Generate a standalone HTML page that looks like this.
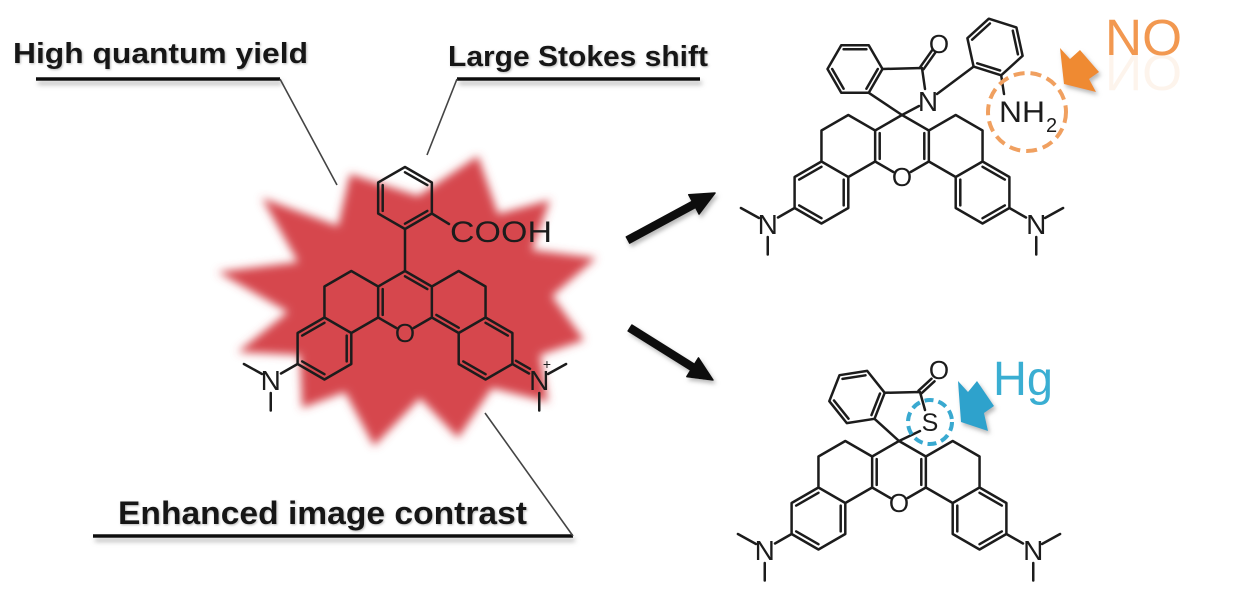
<!DOCTYPE html>
<html><head><meta charset="utf-8"><style>
html,body{margin:0;padding:0;background:#fff;}
svg{display:block;}
</style></head><body>
<svg width="1258" height="613" viewBox="0 0 1258 613" xmlns="http://www.w3.org/2000/svg">
<defs>
<filter id="blur" x="-20%" y="-20%" width="140%" height="140%"><feGaussianBlur stdDeviation="4.5"/></filter>
<filter id="sh" x="-10%" y="-50%" width="120%" height="300%"><feDropShadow dx="2" dy="4" stdDeviation="2.5" flood-color="#888" flood-opacity="0.6"/></filter>
<filter id="tsh" x="-5%" y="-20%" width="110%" height="140%"><feDropShadow dx="1" dy="1" stdDeviation="1" flood-color="#777" flood-opacity="0.5"/></filter>
<filter id="ash" x="-30%" y="-30%" width="160%" height="160%"><feDropShadow dx="2" dy="3" stdDeviation="2" flood-color="#888" flood-opacity="0.6"/></filter>
<linearGradient id="refl" x1="0" y1="0" x2="0" y2="1">
<stop offset="0" stop-color="#f29850" stop-opacity="0.25"/>
<stop offset="0.35" stop-color="#f29850" stop-opacity="0"/>
</linearGradient>
</defs>
<rect width="1258" height="613" fill="#fff"/>

<!-- starburst -->
<polygon filter="url(#blur)" fill="#d6474d" points="218,272 298,262 262,198 338,226 350,174 418,196 478,156 498,214 550,200 532,250 596,258 552,296 584,340 540,355 548,402 492,388 458,438 420,398 374,446 345,392 302,408 300,355 238,352 288,312"/>

<!-- labels -->
<g font-family="Liberation Sans, sans-serif" font-weight="bold" fill="#151515" filter="url(#tsh)">
<text x="13" y="63" font-size="29" textLength="295" lengthAdjust="spacingAndGlyphs">High quantum yield</text>
<text x="448" y="66" font-size="29" textLength="260" lengthAdjust="spacingAndGlyphs">Large Stokes shift</text>
<text x="118" y="524" font-size="32" textLength="409" lengthAdjust="spacingAndGlyphs">Enhanced image contrast</text>
</g>
<g stroke="#111" stroke-width="3.5" filter="url(#sh)">
<line x1="36" y1="79" x2="280" y2="79"/>
<line x1="457" y1="79" x2="700" y2="79"/>
<line x1="93" y1="536" x2="573" y2="536"/>
</g>
<g stroke="#444" stroke-width="1.6">
<line x1="280" y1="79" x2="337" y2="185"/>
<line x1="457" y1="79" x2="427" y2="155"/>
<line x1="573" y1="536" x2="485" y2="413"/>
</g>

<!-- black arrows -->
<g fill="#111" stroke="#111" stroke-width="1.5" stroke-linejoin="round" filter="url(#ash)">
<polygon points="629.7,243.1 695.6,207.5 699.1,214.1 715,193 688.7,194.7 692.2,201.3 626.3,236.9"/>
<polygon points="628.1,331 690.8,370.2 686.8,376.6 713,380 698.5,357.9 694.5,364.3 631.9,325"/>
</g>

<!-- MAIN MOLECULE -->
<g transform="translate(405,302)" stroke="#1c1c1c" stroke-width="2.5" fill="none" stroke-linecap="round" stroke-linejoin="round">
<path d="M-26.85,15.5 L-26.85,-15.5 L0,-31 L26.85,-15.5 L26.85,15.5 L8.7,26 M-26.85,15.5 L-8.7,26
M26.85,-15.5 L53.7,-31 L80.55,-15.5 L80.55,15.5 L53.7,31 L26.85,15.5
M80.55,15.5 L107.4,31 L107.4,62 L80.55,77.5 L53.7,62 L53.7,31
M107.4,62 L124,71.5 M143,72 L161.1,62 M134.25,91 L134.25,108.5
M-26.85,-15.5 L-53.7,-31 L-80.55,-15.5 L-80.55,15.5 L-53.7,31 L-26.85,15.5
M-80.55,15.5 L-107.4,31 L-107.4,62 L-80.55,77.5 L-53.7,62 L-53.7,31
M-107.4,62 L-124,71.5 M-143,72 L-161.1,62 M-134.25,91 L-134.25,108.5
M0,-31 L0,-73"/>
<path d="M0,-25.7 L22.3,-12.9 M-22.3,-12.9 L-22.3,12.9 M31.4,12.9 L53.7,25.7 M80.55,20.8 L102.8,33.6 M80.55,72.2 L58.3,59.4 M111,58.8 L125,66.8
M-80.55,20.8 L-102.8,33.6 M-58.3,33.6 L-58.3,59.4 M-102.8,59.4 L-80.55,72.2"/>
</g>
<!-- top benzene + COOH -->
<g stroke="#1c1c1c" stroke-width="2.5" fill="none" stroke-linecap="round" stroke-linejoin="round">
<path d="M405,167 L431.85,182.5 L431.85,213.5 L405,229 L378.15,213.5 L378.15,182.5 Z M431.85,213.5 L449,224"/>
<path d="M405,172.3 L427.3,185.1 M382.7,185.1 L382.7,210.9 M405,223.7 L427.3,210.9"/>
</g>
<g font-family="Liberation Sans, sans-serif" fill="#1c1c1c" text-anchor="middle">
<text x="405" y="342" font-size="26">O</text>
<text x="270.75" y="390" font-size="28">N</text>
<text x="539.25" y="390" font-size="28">N</text>
<text x="547" y="369" font-size="14">+</text>
<text x="450" y="242" font-size="30" text-anchor="start" textLength="102" lengthAdjust="spacingAndGlyphs">COOH</text>
</g>

<!-- UPPER RIGHT MOLECULE -->
<g transform="translate(902,146)" stroke="#1c1c1c" stroke-width="2.5" fill="none" stroke-linecap="round" stroke-linejoin="round">
<path d="M-26.85,15.5 L-26.85,-15.5 L0,-31 L26.85,-15.5 L26.85,15.5 L8.7,26 M-26.85,15.5 L-8.7,26
M26.85,-15.5 L53.7,-31 L80.55,-15.5 L80.55,15.5 L53.7,31 L26.85,15.5
M80.55,15.5 L107.4,31 L107.4,62 L80.55,77.5 L53.7,62 L53.7,31
M107.4,62 L124,71.5 M143,72 L161.1,62 M134.25,91 L134.25,108.5
M-26.85,-15.5 L-53.7,-31 L-80.55,-15.5 L-80.55,15.5 L-53.7,31 L-26.85,15.5
M-80.55,15.5 L-107.4,31 L-107.4,62 L-80.55,77.5 L-53.7,62 L-53.7,31
M-107.4,62 L-124,71.5 M-143,72 L-161.1,62 M-134.25,91 L-134.25,108.5"/>
<path d="M-22.3,-12.9 L-22.3,12.9 M22.3,-12.9 L22.3,12.9
M80.55,20.8 L102.8,33.6 M58.3,33.6 L58.3,59.4 M102.8,59.4 L80.55,72.2
M-80.55,20.8 L-102.8,33.6 M-58.3,33.6 L-58.3,59.4 M-102.8,59.4 L-80.55,72.2"/>
</g>
<g stroke="#1c1c1c" stroke-width="2.5" fill="none" stroke-linecap="round" stroke-linejoin="round">
<path d="M827.5,69 L841.25,45.2 L868.75,45.2 L882.5,69 L868.75,92.8 L841.25,92.8 Z"/>
<path d="M843.6,49.3 L866.4,49.3 M877.8,69 L866.4,88.7 M843.6,88.7 L832.2,69"/>
<path d="M902,115 L868.75,92.8 M882.5,69 L922,68 L925,89 M919,106 L902,115"/>
<path d="M920.4,66.8 L932.4,49.8 M923.6,69.2 L935.6,52.2"/>
<path d="M937,94 L973.6,66.6"/>
<path d="M973.6,66.6 L967.4,38.2 L988.8,18.7 L1016.4,27.4 L1022.6,55.8 L1001.2,75.3 Z"/>
<path d="M1001.2,75.3 L1004,94"/>
<path d="M972.1,39.7 L989.9,23.5 M1012.8,30.7 L1017.9,54.3 M1000.1,70.5 L977.2,63.3"/>
</g>
<g font-family="Liberation Sans, sans-serif" fill="#1c1c1c" text-anchor="middle">
<text x="902" y="186" font-size="26">O</text>
<text x="767.75" y="234" font-size="28">N</text>
<text x="1036.25" y="234" font-size="28">N</text>
<text x="928" y="111" font-size="28">N</text>
<text x="939" y="53" font-size="26">O</text>
<text x="999" y="122" font-size="30" text-anchor="start" textLength="46" lengthAdjust="spacingAndGlyphs">NH</text>
<text x="1046" y="132" font-size="20" text-anchor="start">2</text>
</g>
<circle cx="1027" cy="112" r="39" fill="none" stroke="#f0a060" stroke-width="4" stroke-dasharray="11 6"/>
<polygon points="1060,48 1070,59 1080,50 1099,72 1089,79 1096,92 1064,84" fill="#ef8a30" filter="url(#ash)"/>
<text x="1105" y="55" font-family="Liberation Sans, sans-serif" font-size="51" fill="#f29850" textLength="77" lengthAdjust="spacingAndGlyphs">NO</text>
<g transform="translate(0,110) scale(1,-1)">
<text x="1105" y="55" font-family="Liberation Sans, sans-serif" font-size="51" fill="#f29850" opacity="0.1" textLength="77" lengthAdjust="spacingAndGlyphs">NO</text>
</g>

<!-- LOWER RIGHT MOLECULE -->
<g transform="translate(899,472)" stroke="#1c1c1c" stroke-width="2.5" fill="none" stroke-linecap="round" stroke-linejoin="round">
<path d="M-26.85,15.5 L-26.85,-15.5 L0,-31 L26.85,-15.5 L26.85,15.5 L8.7,26 M-26.85,15.5 L-8.7,26
M26.85,-15.5 L53.7,-31 L80.55,-15.5 L80.55,15.5 L53.7,31 L26.85,15.5
M80.55,15.5 L107.4,31 L107.4,62 L80.55,77.5 L53.7,62 L53.7,31
M107.4,62 L124,71.5 M143,72 L161.1,62 M134.25,91 L134.25,108.5
M-26.85,-15.5 L-53.7,-31 L-80.55,-15.5 L-80.55,15.5 L-53.7,31 L-26.85,15.5
M-80.55,15.5 L-107.4,31 L-107.4,62 L-80.55,77.5 L-53.7,62 L-53.7,31
M-107.4,62 L-124,71.5 M-143,72 L-161.1,62 M-134.25,91 L-134.25,108.5"/>
<path d="M-22.3,-12.9 L-22.3,12.9 M22.3,-12.9 L22.3,12.9
M80.55,20.8 L102.8,33.6 M58.3,33.6 L58.3,59.4 M102.8,59.4 L80.55,72.2
M-80.55,20.8 L-102.8,33.6 M-58.3,33.6 L-58.3,59.4 M-102.8,59.4 L-80.55,72.2"/>
</g>
<g stroke="#1c1c1c" stroke-width="2.5" fill="none" stroke-linecap="round" stroke-linejoin="round">
<path d="M884.7,392.8 L874.5,418.8 L846.8,423.1 L829.3,401.2 L839.5,375.2 L867.2,370.9 Z"/>
<path d="M842.5,378.9 L865.5,375.3 M880,393.5 L871.5,415.1 M848.5,418.7 L834,400.5"/>
<path d="M884.7,392.8 L920,392 L925,410 M920,431 L899,441 L874.5,418.8"/>
<path d="M918.5,390.7 L931.5,378.7 M921.5,393.3 L934.5,381.3"/>
</g>
<g font-family="Liberation Sans, sans-serif" fill="#1c1c1c" text-anchor="middle">
<text x="899" y="512" font-size="26">O</text>
<text x="764.75" y="560" font-size="28">N</text>
<text x="1033.25" y="560" font-size="28">N</text>
<text x="939" y="379" font-size="26">O</text>
<text x="930" y="431" font-size="25">S</text>
</g>
<circle cx="930" cy="422" r="22" fill="none" stroke="#39a9d0" stroke-width="4" stroke-dasharray="9 5"/>
<polygon points="958,381 968,392 977,381 994,406 984,413 988,431 961,422" fill="#2ea2cc" filter="url(#ash)"/>
<text x="993" y="395" font-family="Liberation Sans, sans-serif" font-size="48" fill="#3aaed2" textLength="60" lengthAdjust="spacingAndGlyphs">Hg</text>
</svg>
</body></html>
